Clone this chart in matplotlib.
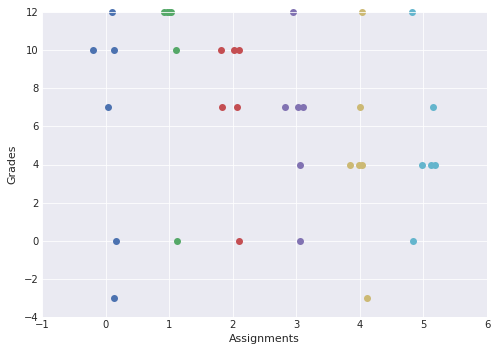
import matplotlib
matplotlib.use('Agg')
import matplotlib.pyplot as plt
import seaborn as sns

# one group of points per assignment, jittered around the assignment index
assign0_x = [0.10, -0.19, 0.14, 0.04, 0.17, 0.14]
assign0_y = [12, 10, 10, 7, 0, -3]
assign1_x = [0.92, 0.96, 1.00, 1.03, 1.11, 1.12]
assign1_y = [12, 12, 12, 12, 10, 0]
assign2_x = [1.82, 2.02, 2.10, 1.83, 2.07, 2.10]
assign2_y = [10, 10, 10, 7, 7, 0]
assign3_x = [2.95, 2.83, 3.03, 3.11, 3.06, 3.06]
assign3_y = [12, 7, 7, 7, 4, 0]
assign4_x = [4.04, 4.00, 3.85, 3.99, 4.04, 4.11]
assign4_y = [12, 7, 4, 4, 4, -3]
assign5_x = [4.82, 5.15, 4.98, 5.12, 5.18, 4.84]
assign5_y = [12, 7, 4, 4, 4, 0]

groups = [(assign0_x, assign0_y), (assign1_x, assign1_y), (assign2_x, assign2_y),
          (assign3_x, assign3_y), (assign4_x, assign4_y), (assign5_x, assign5_y)]
colors = ["#4C72B0", "#55A868", "#C44E52", "#8172B2", "#CCB974", "#64B5CD"]

sns.set_style("darkgrid")
plt.rcParams['font.family'] = ['DejaVu Sans']

fig = plt.figure(figsize=(497 / 72, 356 / 72), dpi=72)
ax = fig.add_axes([42 / 497, 1 - 317 / 356, 445 / 497, 305 / 356])

for (xs, ys), c in zip(groups, colors):
    ax.plot(xs, ys, 'o', color=c, markersize=7, markeredgewidth=0, clip_on=False)

ax.set_xlim(-1, 6)
ax.set_ylim(-4, 12)
ax.set_xticks(range(-1, 7))
ax.set_yticks(range(-4, 13, 2))
ax.tick_params(labelsize=10, colors="#262626", length=0)
ax.set_xlabel("Assignments", fontsize=11, color="#262626")
ax.set_ylabel("Grades", fontsize=11, color="#262626", labelpad=6)

plt.savefig("out.png", dpi=72)
plt.close(fig)
